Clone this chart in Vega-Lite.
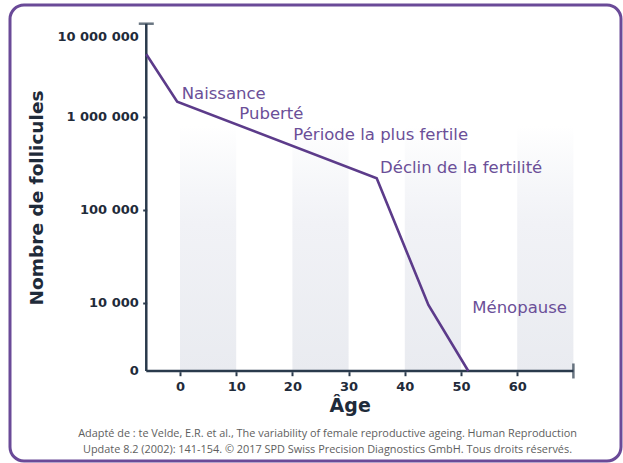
{
  "$schema": "https://vega.github.io/schema/vega-lite/v6.json",
  "width": 611,
  "height": 456,
  "autosize": {"type": "none"},
  "padding": {"left": 10, "top": 5, "right": 2, "bottom": 2},
  "background": "#ffffff",
  "config": {
    "view": {"stroke": "#6a4a98", "strokeWidth": 3, "cornerRadius": 14, "fill": "#ffffff"}
  },
  "title": {
    "text": [
      "Adapté de : te Velde, E.R. et al., The variability of female reproductive ageing. Human Reproduction",
      "Update 8.2 (2002): 141-154. © 2017 SPD Swiss Precision Diagnostics GmbH. Tous droits réservés."
    ],
    "orient": "bottom",
    "anchor": "middle",
    "frame": "group",
    "offset": -33,
    "dx": 12,
    "font": "Open Sans",
    "fontSize": 10.9,
    "fontWeight": "normal",
    "color": "#5e5e5e",
    "lineHeight": 16
  },
  "datasets": {
    "curve": [
      {"age": -6, "value": 4700000},
      {"age": -0.5, "value": 1450000},
      {"age": 35, "value": 218000},
      {"age": 44.2, "value": 9440},
      {"age": 51.3, "value": 1845}
    ],
    "stripes": [
      {"age": 0, "age2": 10, "value": 1845, "value2": 800000},
      {"age": 20, "age2": 30, "value": 1845, "value2": 800000},
      {"age": 40, "age2": 50, "value": 1845, "value2": 800000},
      {"age": 60, "age2": 70, "value": 1845, "value2": 800000}
    ],
    "axislines": [
      {"age": -6, "age2": -6, "value": 1845, "value2": 10000000},
      {"age": -6, "age2": 70, "value": 1845, "value2": 1845}
    ],
    "topcap": [{"age": -6, "value": 10000000}],
    "rightcap": [{"age": 70, "value": 1845}],
    "labels": [
      {"age": 0.3, "value": 1740000, "label": "Naissance"},
      {"age": 10.55, "value": 1070000, "label": "Puberté"},
      {"age": 20.17, "value": 635000, "label": "Période la plus fertile"},
      {"age": 35.6, "value": 279000, "label": "Déclin de la fertilité"},
      {"age": 52.0, "value": 8830, "label": "Ménopause"}
    ]
  },
  "encoding": {
    "x": {
      "field": "age",
      "type": "quantitative",
      "scale": {"domain": [-30.25, 78.47], "nice": false, "zero": false},
      "axis": {
        "orient": "bottom",
        "offset": -89.3,
        "values": [0, 10, 20, 30, 40, 50, 60],
        "domain": false,
        "grid": false,
        "tickSize": 4,
        "tickWidth": 2,
        "tickColor": "#2a3a4c",
        "labelPadding": 4.3,
        "labelFont": "DejaVu Sans",
        "labelFontWeight": "bold",
        "labelFontSize": 13,
        "labelColor": "#1f2b3a",
        "title": "Âge",
        "titleFont": "DejaVu Sans",
        "titleFontWeight": "bold",
        "titleFontSize": 19,
        "titleColor": "#1f2b3a",
        "titleX": 339.7,
        "titleY": 40,
        "titleAlign": "center",
        "titleBaseline": "alphabetic"
      }
    },
    "y": {
      "field": "value",
      "type": "quantitative",
      "scale": {"type": "log", "domain": [198.6, 15890000], "nice": false},
      "axis": {
        "orient": "left",
        "offset": -136.7,
        "values": [1845, 10000, 100000, 1000000, 10000000],
        "labelExpr": "datum.value < 5000 ? '0' : datum.value < 50000 ? '10 000' : datum.value < 500000 ? '100 000' : datum.value < 5000000 ? '1 000 000' : '10 000 000'",
        "domain": false,
        "grid": false,
        "tickSize": 4,
        "tickWidth": 2,
        "tickColor": "#2a3a4c",
        "tickOpacity": {"condition": {"test": "datum.value < 5000 || datum.value > 5000000", "value": 0}, "value": 1},
        "labelOffset": {"condition": {"test": "datum.value > 5000000", "value": 12.5}, "value": 0},
        "labelPadding": 4.4,
        "labelFont": "DejaVu Sans",
        "labelFontWeight": "bold",
        "labelFontSize": 13,
        "labelColor": "#1f2b3a",
        "title": "Nombre de follicules",
        "titleFont": "DejaVu Sans",
        "titleFontWeight": "bold",
        "titleFontSize": 18.5,
        "titleColor": "#1f2b3a",
        "titleX": -110.7,
        "titleY": 192.5,
        "titleAngle": -90,
        "titleAlign": "center",
        "titleBaseline": "middle"
      }
    }
  },
  "layer": [
    {
      "data": {"name": "stripes"},
      "mark": {
        "type": "rect",
        "color": {
          "gradient": "linear",
          "x1": 0, "y1": 0, "x2": 0, "y2": 1,
          "stops": [
            {"offset": 0, "color": "rgba(238,240,245,0)"},
            {"offset": 0.4, "color": "#f1f2f6"},
            {"offset": 1, "color": "#e9ebf0"}
          ]
        }
      },
      "encoding": {
        "x2": {"field": "age2"},
        "y2": {"field": "value2"}
      }
    },
    {
      "data": {"name": "axislines"},
      "mark": {"type": "rule", "color": "#2a3a4c", "strokeWidth": 2.5},
      "encoding": {
        "x2": {"field": "age2"},
        "y2": {"field": "value2"}
      }
    },
    {
      "data": {"name": "topcap"},
      "mark": {"type": "tick", "orient": "horizontal", "color": "#2a3a4c", "size": 15, "thickness": 2.5},
      "encoding": {}
    },
    {
      "data": {"name": "rightcap"},
      "mark": {"type": "tick", "orient": "vertical", "color": "#2a3a4c", "size": 15, "thickness": 2.5},
      "encoding": {}
    },
    {
      "data": {"name": "curve"},
      "mark": {"type": "line", "color": "#5c3b8a", "strokeWidth": 2.6},
      "encoding": {}
    },
    {
      "data": {"name": "labels"},
      "mark": {"type": "text", "align": "left", "baseline": "middle", "font": "DejaVu Sans", "fontSize": 16.5, "color": "#6b4f98"},
      "encoding": {"text": {"field": "label"}}
    }
  ]
}
